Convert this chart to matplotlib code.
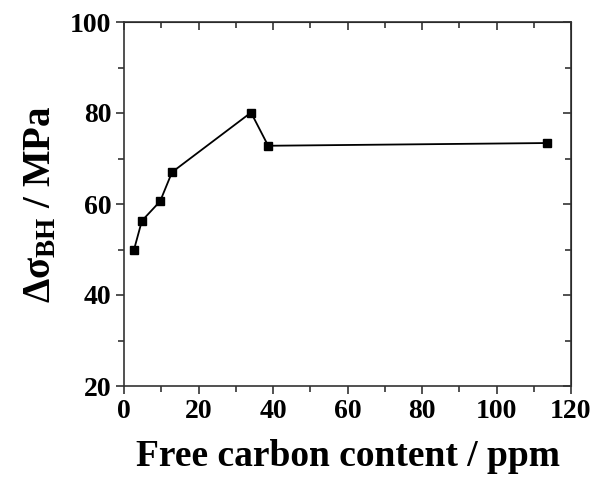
import matplotlib
matplotlib.use("Agg")
import matplotlib.pyplot as plt

# free carbon content (ppm) vs bake hardening increment (MPa)
carbon_ppm = [2.7, 4.8, 9.7, 12.9, 34.1, 38.7, 113.6]
delta_sigma = [50.0, 56.3, 60.6, 67.0, 80.1, 72.8, 73.4]

plt.rcParams['font.family'] = 'Liberation Serif'
plt.rcParams['font.weight'] = 'bold'
plt.rcParams['mathtext.fontset'] = 'custom'
plt.rcParams['mathtext.rm'] = 'Liberation Serif:bold'
plt.rcParams['mathtext.it'] = 'Liberation Serif:bold'
plt.rcParams['mathtext.bf'] = 'Liberation Serif:bold'

fig = plt.figure(figsize=(5.92, 4.79), dpi=100)
ax = fig.add_axes([124/592, 1 - 386/479, (571-124)/592, (386-22)/479])

ax.plot(carbon_ppm, delta_sigma, color='black', lw=1.3, marker='s', ms=6)

ax.set_xlim(0, 120)
ax.set_ylim(20, 100)
ax.set_xticks(range(0, 121, 20))
ax.set_xticks(range(10, 120, 20), minor=True)
ax.set_yticks(range(20, 101, 20))
ax.set_yticks(range(30, 100, 20), minor=True)

for s in ax.spines.values():
    s.set_linewidth(1.2)
    s.set_color('#333333')

ax.tick_params(which='both', direction='out', top=False, right=False, width=1.2, color='#333333', labelsize=20)
ax.tick_params(which='major', length=6, pad=3)
ax.tick_params(which='minor', length=4)
for lbl in ax.get_xticklabels() + ax.get_yticklabels():
    lbl.set_fontweight('bold')

# mirrored inward ticks on top and right
axt = ax.secondary_xaxis('top')
axt.set_xticks(range(0, 121, 20))
axt.set_xticks(range(10, 120, 20), minor=True)
axt.tick_params(which='both', direction='in', labeltop=False, width=1.2, color='#333333')
axt.tick_params(which='major', length=6)
axt.tick_params(which='minor', length=4)
axr = ax.secondary_yaxis('right')
axr.set_yticks(range(20, 101, 20))
axr.set_yticks(range(30, 100, 20), minor=True)
axr.tick_params(which='both', direction='in', labelright=False, width=1.2, color='#333333')
axr.tick_params(which='major', length=6)
axr.tick_params(which='minor', length=4)

ax.set_xlabel('Free carbon content / ppm', fontsize=27, fontweight='bold', labelpad=11)
ax.set_ylabel(r'$\Delta\sigma_{\mathrm{BH}}$ / MPa', fontsize=28, fontweight='bold', labelpad=8)

fig.savefig('out.png', dpi=100)
